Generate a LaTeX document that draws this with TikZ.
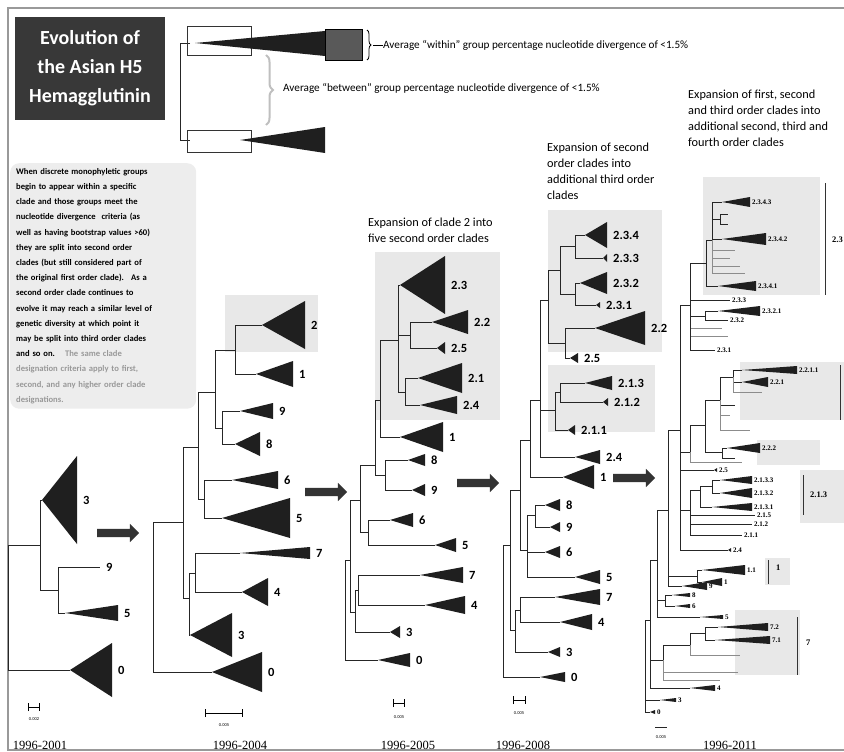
\documentclass[tikz,border=0pt]{standalone}
\usepackage{fontspec}
\setmainfont{Carlito}
\newfontfamily\yearfont{Liberation Serif}
\usetikzlibrary{shapes.arrows,arrows.meta,decorations.pathreplacing,positioning}

\tikzset{
  frame/.style={draw=black!40, line width=1.6pt},
  tree/.style={draw=black!85, line width=0.8pt},
  twig/.style={draw=black!45, line width=0.5pt},
  clade/.style={fill=black!88},
  cladelbl/.style={anchor=west, inner sep=0pt, xshift=6pt, font=\fontsize{12.5}{12.5}\selectfont\bfseries},
  smalllbl/.style={anchor=west, inner sep=0pt, xshift=2pt, font=\yearfont\fontsize{7}{7}\selectfont\bfseries},
  grouplbl/.style={anchor=west, inner sep=0pt, font=\yearfont\fontsize{8.5}{8.5}\selectfont\bfseries},
  hilite/.style={fill=black!9},
  groupbar/.style={draw=black!80, line width=1pt},
  bigarrow/.style={single arrow, fill=black!80, draw=none, minimum height=42pt,
    single arrow head extend=5pt, inner sep=4pt},
  titlebox/.style={fill=black!78, text=white, minimum width=150pt, minimum height=103pt,
    align=center, font=\fontsize{20}{29}\selectfont\bfseries},
  notebox/.style={fill=black!7, rounded corners=9pt, anchor=north west, inner xsep=6pt,
    inner ysep=5pt, text width=174pt, font=\fontsize{8.6}{15.2}\selectfont\bfseries},
  steptitle/.style={anchor=north west, align=left, inner sep=0pt,
    font=\fontsize{12.3}{15.8}\selectfont},
  legbox/.style={draw=black!80, line width=0.8pt, minimum width=64pt, minimum height=29pt},
  legdark/.style={draw=black, line width=0.8pt, fill=black!65, minimum width=37pt, minimum height=31pt},
  legtext/.style={anchor=west, inner sep=0pt, font=\fontsize{11.2}{11.2}\selectfont},
  legbrace/.style={decorate, decoration={brace, amplitude=4pt}, line width=0.8pt},
  betweenbrace/.style={decorate, decoration={brace, amplitude=7pt}, draw=black!25, line width=2pt},
  yearlbl/.style={anchor=base, inner sep=0pt, font=\yearfont\fontsize{12.5}{12.5}\selectfont},
  scalebar/.style={{Bar[width=8pt]}-{Bar[width=8pt]}, line width=0.8pt},
  scalelbl/.style={inner sep=0pt, font=\fontsize{4.5}{4.5}\selectfont}
}

% branch from a junction (x,y) to a child (x,y)
\newcommand{\branch}[5][tree]{\draw[#1] (#2,#3) |- (#4,#5);}
% collapsed clade: apex x, y, base x, half height, name, text
\newcommand{\clade}[7][cladelbl]{%
  \fill[clade] (#2,#3) -- (#4,{#3-#5}) -- (#4,{#3+#5}) -- cycle;
  \node[#1] (#6) at (#4,#3) {#7};}
\newcommand{\tiplbl}[5][cladelbl]{\node[#1] (#4) at (#2,#3) {#5};}

\begin{document}
\begin{tikzpicture}[x=1pt,y=-1pt]
\useasboundingbox (0,0) rectangle (844,752);
\draw[frame] (844,8) -- (8,8) -- (8,750) -- (844,750);

% title and legend
\node[titlebox] (title) at (90,68.5) {Evolution of\\the Asian H5\\Hemagglutinin};
\draw[tree] (190,43) -| (180,140) -- (190,140);
\node[legbox] (legtop) at (219,40.5) {};
\node[legbox, minimum height=22pt] (legbot) at (219,141) {};
\fill[clade] (195,43) -- (325,31) -- (325,56) -- cycle;
\fill[clade] (240,140) -- (325,127) -- (325,153) -- cycle;
\node[legdark] (legdiv) at (343.5,44.5) {};
\draw[legbrace] (367,30) -- (367,60);
\node[legtext] (within) at (383,45) {Average “within” group percentage nucleotide divergence of <1.5\%};
\draw (373,45) -- (within.west);
\draw[betweenbrace] (266,55) -- (266,125);
\node[legtext] (between) at (283,88) {Average “between” group percentage nucleotide divergence of <1.5\%};

% note
\node[notebox] (note) at (10,163) {When discrete monophyletic groups\linebreak
begin to appear within a specific\linebreak
clade and those groups meet the\linebreak
nucleotide divergence \ criteria (as\linebreak
well as having bootstrap values >60)\linebreak
they are split into second order\linebreak
clades (but still considered part of\linebreak
the original first order clade). \ As a\linebreak
second order clade continues to\linebreak
evolve it may reach a similar level of\linebreak
genetic diversity at which point it\linebreak
may be split into third order clades\linebreak
and so on. {\color{black!40}\ \ The same clade\linebreak
designation criteria apply to first,\linebreak
second, and any higher order clade\linebreak
designations.}};

% 1996-2001
\branch{8}{600}{40}{545}
\branch{8}{600}{70}{670}
\clade{70}{670}{112}{27}{zeroA}{0}
\branch{40}{545}{42}{500}
\clade{42}{500}{77}{44}{threeA}{3}
\branch{40}{545}{58}{590}
\branch{58}{590}{100}{567}
\tiplbl{100}{567}{nineA}{9}
\branch{58}{590}{65}{613}
\clade{65}{613}{118}{8}{fiveA}{5}
\node[bigarrow] (arrowA) at (116,533) {};
\draw[scalebar] (28,707) -- (40,707);
\node[scalelbl] (scaleA) at (34,719) {0.002};
\node[yearlbl] (yearA) at (40,749) {1996-2001};

% 1996-2004
\fill[hilite] (225,295) rectangle (318,352);
\branch{153}{597}{183}{522}
\branch{153}{597}{212}{672}
\clade{212}{672}{262}{20}{zeroB}{0}
\branch{183}{522}{198}{447}
\branch{183}{522}{189}{598}
\branch{189}{598}{195}{573}
\branch{189}{598}{190}{635}
\clade{190}{635}{232}{22}{threeB}{3}
\branch{195}{573}{240}{553}
\clade{240}{553}{310}{6}{sevenB}{7}
\branch{195}{573}{242}{592}
\clade{242}{592}{268}{14}{fourB}{4}
\branch{198}{447}{215}{392}
\branch{198}{447}{204}{499}
\branch{204}{499}{232}{480}
\clade{232}{480}{278}{9}{sixB}{6}
\branch{204}{499}{222}{518}
\clade{222}{518}{290}{20}{fiveB}{5}
\branch{215}{392}{235}{350}
\branch{215}{392}{222}{428}
\branch{235}{350}{262}{325}
\clade{262}{325}{305}{24}{twoB}{2}
\branch{235}{350}{256}{374}
\clade{256}{374}{293}{13}{oneB}{1}
\branch{222}{428}{240}{411}
\clade{240}{411}{273}{8}{nineB}{9}
\branch{222}{428}{235}{444}
\clade{235}{444}{260}{12}{eightB}{8}
\node[bigarrow] (arrowB) at (324,492) {};
\draw[scalebar] (205,713) -- (243,713);
\node[scalelbl] (scaleB) at (224,725) {0.005};
\node[yearlbl] (yearB) at (240,749) {1996-2004};

% 1996-2005
\node[steptitle] (titleC) at (368,218) {Expansion of clade 2 into\\five second order clades};
\fill[hilite] (375,252) rectangle (500,420);
\branch{345}{610}{350}{560}
\branch{345}{610}{378}{660}
\clade{378}{660}{410}{7}{zeroC}{0}
\branch{350}{560}{360}{500}
\branch{350}{560}{355}{612}
\branch{355}{612}{358}{590}
\branch{355}{612}{390}{632}
\clade{390}{632}{400}{6}{threeC}{3}
\branch{358}{590}{420}{575}
\clade{420}{575}{463}{8}{sevenC}{7}
\branch{358}{590}{425}{605}
\clade{425}{605}{465}{9}{fourC}{4}
\branch{360}{500}{375}{465}
\branch{360}{500}{368}{532}
\branch{368}{532}{390}{520}
\clade{390}{520}{413}{7}{sixC}{6}
\branch{368}{532}{435}{545}
\clade{435}{545}{456}{7}{fiveC}{5}
\branch{375}{465}{380}{400}
\branch{375}{465}{385}{475}
\branch{385}{475}{408}{460}
\clade{408}{460}{425}{6}{eightC}{8}
\branch{385}{475}{412}{490}
\clade{412}{490}{425}{6}{nineC}{9}
\branch{380}{400}{398}{340}
\branch{380}{400}{400}{437}
\clade{400}{437}{443}{15}{oneC}{1}
\branch{398}{340}{400}{285}
\clade{400}{285}{445}{29}{twothreeC}{2.3}
\branch{398}{340}{410}{335}
\branch{398}{340}{405}{392}
\branch{410}{335}{432}{322}
\clade{432}{322}{468}{12}{twotwoC}{2.2}
\branch{410}{335}{437}{348}
\clade{437}{348}{445}{6}{twofiveC}{2.5}
\branch{405}{392}{418}{378}
\clade{418}{378}{462}{15}{twooneC}{2.1}
\branch{405}{392}{420}{405}
\clade{420}{405}{457}{9}{twofourC}{2.4}
\node[bigarrow] (arrowC) at (476,483) {};
\draw[scalebar] (393,703) -- (405,703);
\node[scalelbl] (scaleC) at (399,717) {0.005};
\node[yearlbl] (yearC) at (408,749) {1996-2005};

% 1996-2008
\node[steptitle] (titleD) at (547,143) {Expansion of second\\order clades into\\additional third order\\clades};
\fill[hilite] (548,210) rectangle (662,352);
\fill[hilite] (548,365) rectangle (655,432);
\branch{503}{610}{510}{545}
\branch{503}{610}{540}{677}
\clade{540}{677}{565}{5}{zeroD}{0}
\branch{510}{545}{520}{490}
\branch{510}{545}{515}{630}
\branch{515}{630}{520}{610}
\branch{515}{630}{548}{652}
\clade{548}{652}{560}{5}{threeD}{3}
\branch{520}{610}{555}{597}
\clade{555}{597}{600}{8}{sevenD}{7}
\branch{520}{610}{560}{622}
\clade{560}{622}{592}{8}{fourD}{4}
\branch{520}{490}{530}{440}
\branch{520}{490}{527}{550}
\branch{527}{550}{535}{515}
\branch{527}{550}{545}{552}
\clade{545}{552}{560}{6}{sixD}{6}
\branch{527}{550}{575}{577}
\clade{575}{577}{600}{7}{fiveD}{5}
\branch{535}{515}{545}{505}
\clade{545}{505}{560}{6}{eightD}{8}
\branch{535}{515}{550}{527}
\clade{550}{527}{560}{5}{nineD}{9}
\branch{530}{440}{540}{400}
\branch{530}{440}{563}{477}
\clade{563}{477}{594}{12}{oneD}{1}
\branch{540}{400}{548}{300}
\branch{540}{400}{555}{410}
\branch{540}{400}{575}{457}
\clade{575}{457}{600}{7}{twofourD}{2.4}
\branch{548}{300}{560}{270}
\branch{548}{300}{565}{343}
\branch{560}{270}{575}{246}
\branch{560}{270}{575}{294}
\branch{575}{246}{585}{235}
\clade{585}{235}{607}{13}{d234}{2.3.4}
\branch{575}{246}{603}{258}
\clade{603}{258}{607}{4}{d233}{2.3.3}
\branch{575}{294}{580}{283}
\clade{580}{283}{607}{11}{d232}{2.3.2}
\branch{575}{294}{596}{305}
\clade{596}{305}{600}{3}{d231}{2.3.1}
\branch{565}{343}{595}{328}
\clade{595}{328}{645}{17}{d22}{2.2}
\branch{565}{343}{570}{358}
\clade{570}{358}{578}{5}{d25}{2.5}
\branch{555}{410}{560}{392}
\branch{555}{410}{568}{430}
\clade{568}{430}{575}{5}{d211}{2.1.1}
\branch{560}{392}{585}{383}
\clade{585}{383}{612}{7}{d213}{2.1.3}
\branch{560}{392}{603}{402}
\clade{603}{402}{608}{4}{d212}{2.1.2}
\node[bigarrow] (arrowD) at (632,478) {};
\draw[scalebar] (513,700) -- (526,700);
\node[scalelbl] (scaleD) at (519,713) {0.005};
\node[yearlbl] (yearD) at (523,749) {1996-2008};

% 1996-2011
\node[steptitle] (titleE) at (688,90) {Expansion of first, second\\and third order clades into\\additional second, third and\\fourth order clades};
\fill[hilite] (703,177) rectangle (820,295);
\fill[hilite] (740,362) rectangle (844,420);
\fill[hilite] (757,440) rectangle (820,465);
\fill[hilite] (800,470) rectangle (844,523);
\fill[hilite] (765,558) rectangle (790,585);
\fill[hilite] (735,610) rectangle (800,675);
\draw[groupbar] (825,183) -- (825,295);
\node[grouplbl] (e23) at (832,240) {2.3};
\draw[groupbar] (840,365) -- (840,420);
\draw[groupbar] (803,475) -- (803,515);
\node[grouplbl] (e213) at (810,495) {2.1.3};
\draw[groupbar] (768,560) -- (768,584);
\node[grouplbl] (e1) at (776,568) {1};
\draw[groupbar] (797,617) -- (797,675);
\node[grouplbl] (e7) at (806,643) {7};
% backbone
\branch{645}{665}{650}{620}
\branch{645}{665}{660}{700}
\clade[smalllbl]{660}{700}{676}{2}{ethree}{3}
\branch{645}{665}{650}{712}
\clade[smalllbl]{650}{712}{655}{2}{ezero}{0}
\branch{650}{620}{657}{560}
\branch{650}{620}{663}{660}
\branch{650}{620}{690}{688}
\clade[smalllbl]{690}{688}{715}{3}{efour}{4}
\branch{663}{660}{690}{645}
\branch[twig]{663}{660}{738}{672}
\branch[twig]{663}{660}{720}{680}
\branch{690}{645}{705}{633}
\branch[twig]{690}{645}{740}{655}
\branch{705}{633}{718}{627}
\clade[smalllbl]{718}{627}{768}{4}{e72}{7.2}
\branch{705}{633}{715}{640}
\clade[smalllbl]{715}{640}{770}{4}{e71}{7.1}
\branch{657}{560}{668}{510}
\branch{657}{560}{665}{600}
\branch{657}{560}{700}{617}
\clade[smalllbl]{700}{617}{723}{2}{efive}{5}
\branch{665}{600}{672}{595}
\clade[smalllbl]{672}{595}{690}{2}{eeight}{8}
\branch{665}{600}{675}{606}
\clade[smalllbl]{675}{606}{690}{2}{esix}{6}
\branch{668}{510}{680}{430}
\branch{668}{510}{697}{576}
\branch{668}{510}{682}{586}
\clade[smalllbl]{682}{586}{707}{4}{enine}{9}
\branch{697}{576}{702}{570}
\clade[smalllbl]{702}{570}{745}{5}{e11}{1.1}
\branch{697}{576}{702}{582}
\clade[smalllbl]{702}{582}{722}{4}{eone}{1}
% clade 2
\branch{680}{430}{690}{305}
\branch{680}{430}{690}{452}
\branch{680}{430}{714}{470}
\clade[smalllbl]{714}{470}{717}{2}{e25}{2.5}
\branch{680}{430}{690}{510}
\branch{680}{430}{728}{550}
\clade[smalllbl]{728}{550}{731}{2}{e24}{2.4}
% clade 2.3
\branch{690}{305}{706}{263}
\branch{690}{305}{730}{300}
\tiplbl[smalllbl]{730}{300}{e233}{2.3.3}
\branch{690}{305}{705}{316}
\branch[twig]{690}{305}{722}{328}
\branch[twig]{690}{305}{728}{336}
\branch{690}{305}{715}{350}
\tiplbl[smalllbl]{715}{350}{e231}{2.3.1}
\branch{705}{316}{718}{311}
\clade[smalllbl]{718}{311}{760}{5}{e2321}{2.3.2.1}
\branch{705}{316}{728}{320}
\tiplbl[smalllbl]{728}{320}{e232}{2.3.2}
\branch{706}{263}{712}{240}
\branch{706}{263}{718}{286}
\clade[smalllbl]{718}{286}{756}{5}{e2341}{2.3.4.1}
\branch{712}{240}{722}{202}
\clade[smalllbl]{722}{202}{750}{5}{e2343}{2.3.4.3}
\branch{712}{240}{720}{219}
\branch{720}{219}{728}{214}
\branch{720}{219}{728}{224}
\branch{712}{240}{722}{239}
\clade[smalllbl]{722}{239}{766}{6}{e2342}{2.3.4.2}
\branch[twig]{712}{240}{735}{250}
\branch[twig]{712}{240}{730}{258}
\branch[twig]{712}{240}{740}{266}
\branch[twig]{712}{240}{745}{273}
% clade 2.2
\branch{690}{452}{705}{425}
\branch[twig]{690}{452}{742}{462}
\branch{705}{425}{720}{400}
\branch{705}{425}{722}{452}
\branch{722}{452}{727}{448}
\clade[smalllbl]{727}{448}{760}{5}{e222}{2.2.2}
\branch{722}{452}{735}{458}
\branch{720}{400}{733}{377}
\branch{720}{400}{735}{405}
\branch[twig]{720}{400}{750}{430}
\branch[twig]{720}{400}{730}{415}
\branch{733}{377}{742}{370}
\clade[smalllbl]{742}{370}{797}{4}{e2211}{2.2.1.1}
\branch{733}{377}{742}{382}
\clade[smalllbl]{742}{382}{768}{5}{e221}{2.2.1}
\branch[twig]{733}{377}{762}{392}
% clade 2.1
\branch{690}{510}{700}{490}
\branch{700}{490}{712}{486}
\branch{700}{490}{712}{507}
\clade[smalllbl]{712}{507}{752}{4}{e2131}{2.1.3.1}
\branch{712}{486}{720}{480}
\clade[smalllbl]{720}{480}{752}{4}{e2133}{2.1.3.3}
\branch{712}{486}{720}{493}
\clade[smalllbl]{720}{493}{752}{5}{e2132}{2.1.3.2}
\branch{690}{510}{755}{515}
\tiplbl[smalllbl]{755}{515}{e215}{2.1.5}
\branch{690}{510}{752}{524}
\tiplbl[smalllbl]{752}{524}{e212}{2.1.2}
\branch{690}{510}{742}{535}
\tiplbl[smalllbl]{742}{535}{e211}{2.1.1}
\draw[tree, line width=0.5pt] (655,727) -- (667,727);
\node[scalelbl] (scaleE) at (661,737) {0.005};
\node[yearlbl] (yearE) at (730,749) {1996-2011};
\end{tikzpicture}
\end{document}
